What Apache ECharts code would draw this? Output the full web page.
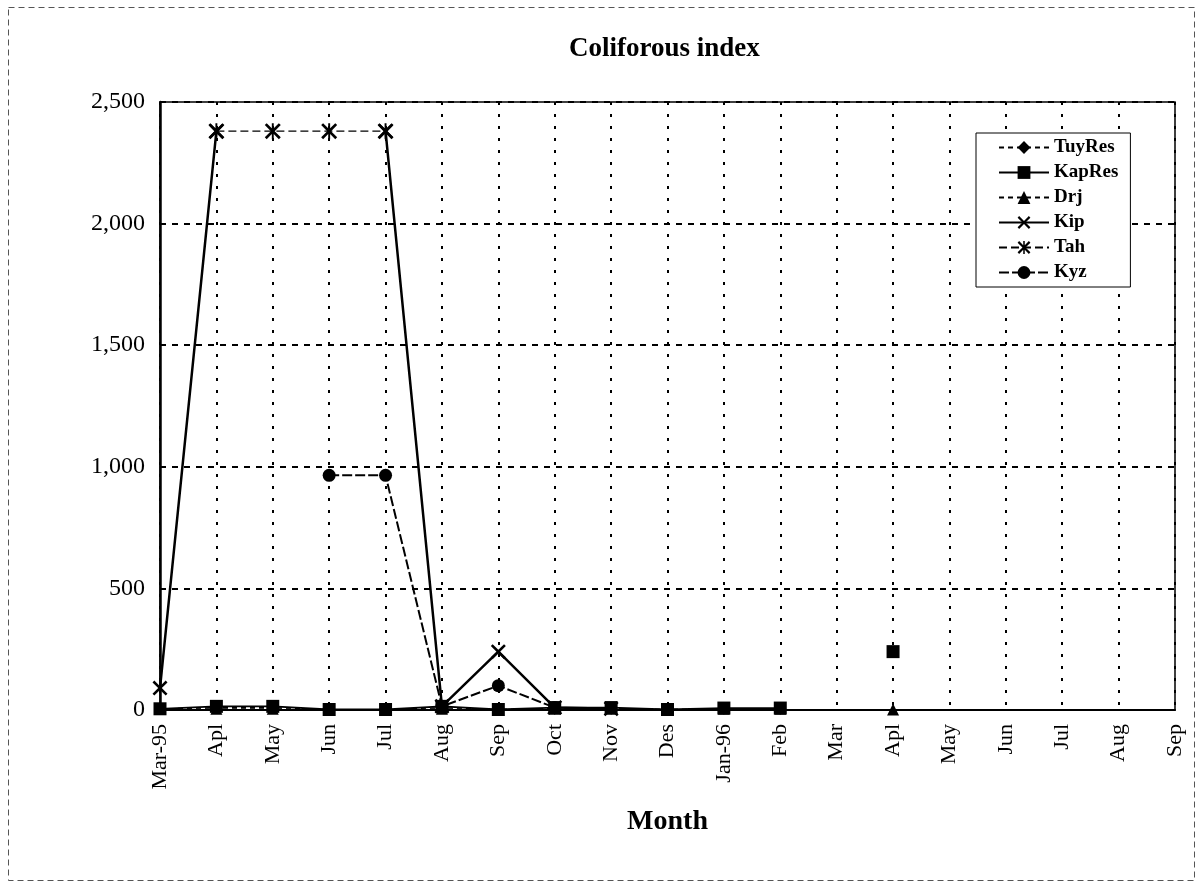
<!DOCTYPE html>
<html>
<head>
<meta charset="utf-8">
<script src="https://cdn.jsdelivr.net/npm/echarts@6/dist/echarts.min.js"></script>
<style>html,body{margin:0;padding:0;background:#fff;}#c{width:1197px;height:883px;}</style>
</head>
<body>
<div id="c"></div>
<script>
const months = ["Mar-95","Apl","May","Jun","Jul","Aug","Sep","Oct","Nov","Des","Jan-96","Feb","Mar","Apl","May","Jun","Jul","Aug","Sep"];
const yTicks = [0, 500, 1000, 1500, 2000, 2500];
const tuyRes = [5, 10, 10, 2, 2, 10, 2, 5, 5, 2, 5, 5, null, null, null, null, null, null, null];
const kapRes = [5, 15, 15, 2, 2, 15, 2, 10, 10, 2, 8, 8, null, 240, null, null, null, null, null];
const drj    = [5, 5, 5, 2, 2, 5, 2, 5, 5, 2, 5, 5, null, 2, null, null, null, null, null];
const kip    = [90, 2380, null, null, 2380, 15, 240, 10, 5, null, null, null, null, null, null, null, null, null, null];
const tah    = [null, 2380, 2380, 2380, 2380, null, null, null, null, null, null, null, null, null, null, null, null, null, null];
const kyz    = [null, null, null, 965, 965, 15, 100, 10, null, null, null, null, null, null, null, null, null, null, null];

const X_PATH = 'path://M0,1.2 L1.2,0 L5,3.8 L8.8,0 L10,1.2 L6.2,5 L10,8.8 L8.8,10 L5,6.2 L1.2,10 L0,8.8 L3.8,5 Z';
const AST_PATH = 'path://M0,1.2 L1.2,0 L4.4,3.2 L4.4,0 L5.6,0 L5.6,3.2 L8.8,0 L10,1.2 L6.2,5 L10,8.8 L8.8,10 L5.6,6.8 L5.6,10 L4.4,10 L4.4,6.8 L1.2,10 L0,8.8 L3.8,5 Z';

const serif = '"Liberation Serif", "DejaVu Serif", serif';

function mk(name, data, symbol, size, lineType, width) {
  return {
    name: name, type: 'line', data: data,
    symbol: symbol, symbolSize: size, showSymbol: true,
    connectNulls: false,
    lineStyle: { color: '#000', width: width, type: lineType },
    itemStyle: { color: '#000', borderColor: '#000', borderWidth: 0 },
    emphasis: { disabled: true },
    animation: false
  };
}

const chart = echarts.init(document.getElementById('c'));
chart.setOption({
  backgroundColor: '#fff',
  animation: false,
  title: {
    text: 'Coliforous index', left: 564, top: 31,
    textStyle: { fontFamily: serif, fontSize: 27, fontWeight: 'bold', color: '#000' }
  },
  graphic: [{
    type: 'rect', left: 6, top: 5, shape: { width: 1186, height: 873 },
    style: { fill: 'none', stroke: '#555', lineWidth: 1, lineDash: [6, 4] }, silent: true
  }],
  legend: {
    orient: 'vertical', left: 976, top: 133,
    itemWidth: 50, itemHeight: 16, itemGap: 6,
    backgroundColor: '#fff', borderColor: '#000', borderWidth: 1,
    padding: [5, 12, 5, 22],
    textStyle: { fontFamily: serif, fontSize: 19, fontWeight: 'bold', color: '#000' },
    data: ['TuyRes', 'KapRes', 'Drj', 'Kip', 'Tah', 'Kyz']
  },
  grid: { left: 160, right: 22, top: 102, bottom: 173, show: true, borderColor: '#000', borderWidth: 1.5, backgroundColor: 'transparent' },
  xAxis: {
    type: 'category', data: months, boundaryGap: false,
    name: 'Month', nameLocation: 'middle', nameGap: 98,
    nameTextStyle: { fontFamily: serif, fontSize: 28, fontWeight: 'bold', color: '#000' },
    axisLine: { lineStyle: { color: '#000', width: 2 } },
    axisTick: { show: false },
    axisLabel: { rotate: 90, margin: 14, fontFamily: serif, fontSize: 22, color: '#000', interval: 0 },
    splitLine: { show: true, lineStyle: { color: '#000', width: 2, type: [3, 9] } }
  },
  yAxis: {
    type: 'value', min: yTicks[0], max: yTicks[yTicks.length - 1], interval: 500,
    axisLine: { show: true, lineStyle: { color: '#000', width: 2.5 } },
    axisTick: { show: false },
    axisLabel: {
      margin: 15, fontFamily: serif, fontSize: 24, color: '#000',
      formatter: v => v.toLocaleString('en-US')
    },
    splitLine: { show: true, lineStyle: { color: '#000', width: 2, type: [6, 6] } }
  },
  series: [
    mk('TuyRes', tuyRes, 'diamond', 12, [5, 4], 1.2),
    mk('KapRes', kapRes, 'rect', 13, 'solid', 1.8),
    mk('Drj', drj, 'triangle', 12, [5, 4], 1.2),
    mk('Kip', kip, X_PATH, 15, 'solid', 2.5),
    mk('Tah', tah, AST_PATH, 16, [8, 4], 1.2),
    mk('Kyz', kyz, 'circle', 13, [10, 3], 2)
  ]
});
</script>
</body>
</html>
